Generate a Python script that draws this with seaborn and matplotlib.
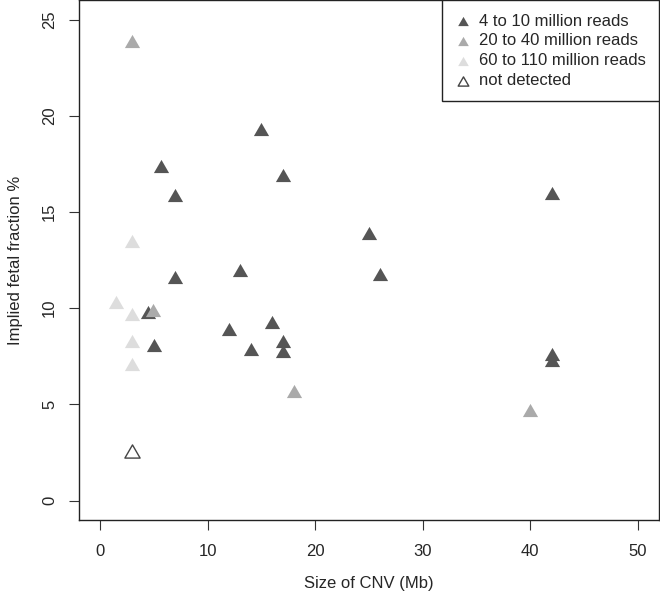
import numpy as np
import pandas as pd
import seaborn as sns
import matplotlib.pyplot as plt
from matplotlib.path import Path

# CNV size (Mb) and implied fetal fraction (%)
low_x = [15, 5.7, 17, 7, 42, 25, 13, 7, 26, 4.5, 5, 12, 16, 14, 17, 17, 42, 42]
low_y = [19.3, 17.4, 16.9, 15.9, 16.0, 13.9, 12.0, 11.6, 11.8, 9.8, 8.1, 8.9, 9.3, 7.9, 8.3, 7.8, 7.6, 7.3]
mid_x = [3, 4.9, 18, 40]
mid_y = [23.9, 9.9, 5.7, 4.7]
high_x = [3, 1.5, 3, 3, 3]
high_y = [13.5, 10.3, 9.7, 8.3, 7.1]
nd_x = [3]
nd_y = [2.6]

labels = ['4 to 10 million reads', '20 to 40 million reads',
          '60 to 110 million reads', 'not detected']

sns.set_style('white')
plt.rcParams['font.family'] = ['Liberation Sans', 'DejaVu Sans']
plt.rcParams['font.size'] = 12

# equilateral triangle, centred on its bounding box
tri = Path([(0, 0.75), (-0.866, -0.75), (0.866, -0.75), (0, 0.75)],
           [Path.MOVETO, Path.LINETO, Path.LINETO, Path.CLOSEPOLY])

fig = plt.figure(figsize=(6.6, 6.01), dpi=100)
ax = fig.add_axes([0.119, 0.135, 0.8795, 0.8645])

msize = 120
sns.scatterplot(x=low_x, y=low_y, marker=tri, s=msize, color='#555555', linewidth=0, label=labels[0], ax=ax)
sns.scatterplot(x=mid_x, y=mid_y, marker=tri, s=msize, color='#aaaaaa', linewidth=0, label=labels[1], ax=ax)
sns.scatterplot(x=high_x, y=high_y, marker=tri, s=msize, color='#dddddd', linewidth=0, label=labels[2], ax=ax)
sns.scatterplot(x=nd_x, y=nd_y, marker=tri, s=msize, color='white', edgecolor='#444444',
                linewidth=1, label=labels[3], ax=ax)

ax.set_xlim(-2, 52)
ax.set_ylim(-1, 26)
ax.set_xticks([0, 10, 20, 30, 40, 50])
ax.set_yticks([0, 5, 10, 15, 20, 25])
ax.set_yticklabels(['0', '5', '10', '15', '20', '25'], rotation=90, va='center')
ax.tick_params(axis='both', bottom=True, left=True, length=7.5, width=0.8,
               color='#333333', labelsize=12)
ax.tick_params(axis='x', pad=10)
ax.tick_params(axis='y', pad=8)
for sp in ax.spines.values():
    sp.set_color('#222222')
    sp.set_linewidth(1)

ax.set_xlabel('Size of CNV (Mb)', fontsize=12, labelpad=12)
ax.set_ylabel('Implied fetal fraction %', fontsize=12, labelpad=14)

leg = ax.legend(loc='upper right', borderaxespad=0, fancybox=False, framealpha=1,
                edgecolor='#222222', markerscale=0.7, handlelength=0.9,
                handletextpad=0.5, labelspacing=0.29, borderpad=0.8, fontsize=12)
leg.get_frame().set_linewidth(1)

fig.savefig('out.png', dpi=100)
